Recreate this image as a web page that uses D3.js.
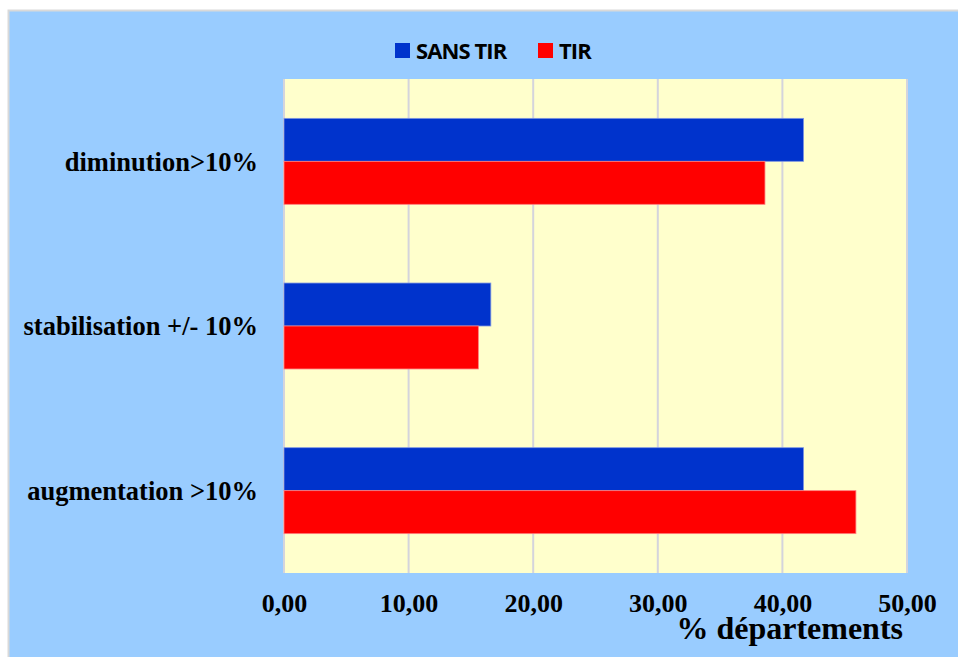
<!DOCTYPE html>
<html>
<head>
<meta charset="utf-8">
<script src="https://cdn.jsdelivr.net/npm/d3@7"></script>
<style>
  body { margin: 0; background: #fff; }
  svg { display: block; }
</style>
</head>
<body>
<svg id="chart"></svg>
<script>
// data
const categories = ["diminution>10%", "stabilisation +/- 10%", "augmentation >10%"];
const seriesNames = ["SANS TIR", "TIR"];
const sansTir = [41.7, 16.6, 41.7];
const tir = [38.6, 15.6, 45.9];
const xTicks = [0, 10, 20, 30, 40, 50];
const colors = ["#0033CC", "#FF0000"];

const W = 958, H = 657;
const margin = { top: 79, right: 51, bottom: 84, left: 284 },
  width = W - margin.left - margin.right,
  height = H - margin.top - margin.bottom;

const svg = d3.select("#chart").attr("width", W).attr("height", H);

// outer panel
svg.append("rect")
  .attr("x", 8.5).attr("y", 10.5)
  .attr("width", W).attr("height", H)
  .attr("fill", "#99CCFF")
  .attr("stroke", "#d9d9d9")
  .attr("stroke-width", 2);

const g = svg.append("g")
  .attr("transform", `translate(${margin.left},${margin.top})`);

g.append("rect")
  .attr("width", width).attr("height", height)
  .attr("fill", "#FFFFCC");

const xScale = d3.scaleLinear().domain([0, 50]).range([0, width]);
const yScale = d3.scaleBand().domain(categories).range([0, height])
  .paddingInner(0.478).paddingOuter(0.239);
const subScale = d3.scaleBand().domain(seriesNames).range([0, yScale.bandwidth()]);

// gridlines
g.append("g")
  .selectAll("line")
  .data(xTicks)
  .join("line")
  .attr("x1", (d) => xScale(d)).attr("x2", (d) => xScale(d))
  .attr("y1", 0).attr("y2", height)
  .attr("stroke", "#d4d4dc")
  .attr("stroke-width", 2);

// bars
const rows = categories.map((c, i) => ({ cat: c, vals: [sansTir[i], tir[i]] }));
const groups = g.selectAll(".grp").data(rows).join("g")
  .attr("class", "grp")
  .attr("transform", (d) => `translate(0,${yScale(d.cat)})`);

groups.selectAll("rect")
  .data((d) => d.vals.map((v, j) => ({ name: seriesNames[j], v, j })))
  .join("rect")
  .attr("x", 0)
  .attr("y", (d) => subScale(d.name))
  .attr("width", (d) => xScale(d.v))
  .attr("height", subScale.bandwidth())
  .attr("fill", (d) => colors[d.j])
  .attr("stroke", (d) => (d.j === 0 ? "#7f97e0" : "#ff7f7f"))
  .attr("stroke-width", 0.8);

// category labels
const yAxis = g.append("g")
  .call(d3.axisLeft(yScale).tickSize(0).tickPadding(26));
yAxis.select(".domain").remove();
yAxis.selectAll("text")
  .attr("dy", "0.35em")
  .style("font-family", "'Liberation Serif', 'Times New Roman', serif")
  .style("font-weight", "bold")
  .style("font-size", "26.5px")
  .style("fill", "#000");

// x axis labels
const fmt = (d) => d.toFixed(2).replace(".", ",");
const xAxis = g.append("g")
  .attr("transform", `translate(0,${height})`)
  .call(d3.axisBottom(xScale).tickValues(xTicks).tickFormat(fmt).tickSize(0).tickPadding(21));
xAxis.select(".domain").remove();
xAxis.selectAll("text")
  .style("font-family", "'Liberation Serif', 'Times New Roman', serif")
  .style("font-weight", "bold")
  .style("font-size", "26px")
  .style("fill", "#000");

svg.append("text")
  .attr("x", 903).attr("y", 639)
  .attr("text-anchor", "end")
  .style("font-family", "'Liberation Serif', 'Times New Roman', serif")
  .style("font-weight", "bold")
  .style("font-size", "32px")
  .text("% départements");

// legend
const legendX = [395, 538];
const legend = svg.append("g");
seriesNames.forEach((name, i) => {
  legend.append("rect")
    .attr("x", legendX[i]).attr("y", 43)
    .attr("width", 15).attr("height", 15)
    .attr("fill", colors[i]);
  legend.append("text")
    .attr("x", legendX[i] + 21).attr("y", 58.5)
    .style("font-family", "'Open Sans', sans-serif")
    .style("font-weight", "bold")
    .style("font-size", "22px")
    .style("letter-spacing", "-0.9px")
    .text(name);
});
</script>
</body>
</html>
